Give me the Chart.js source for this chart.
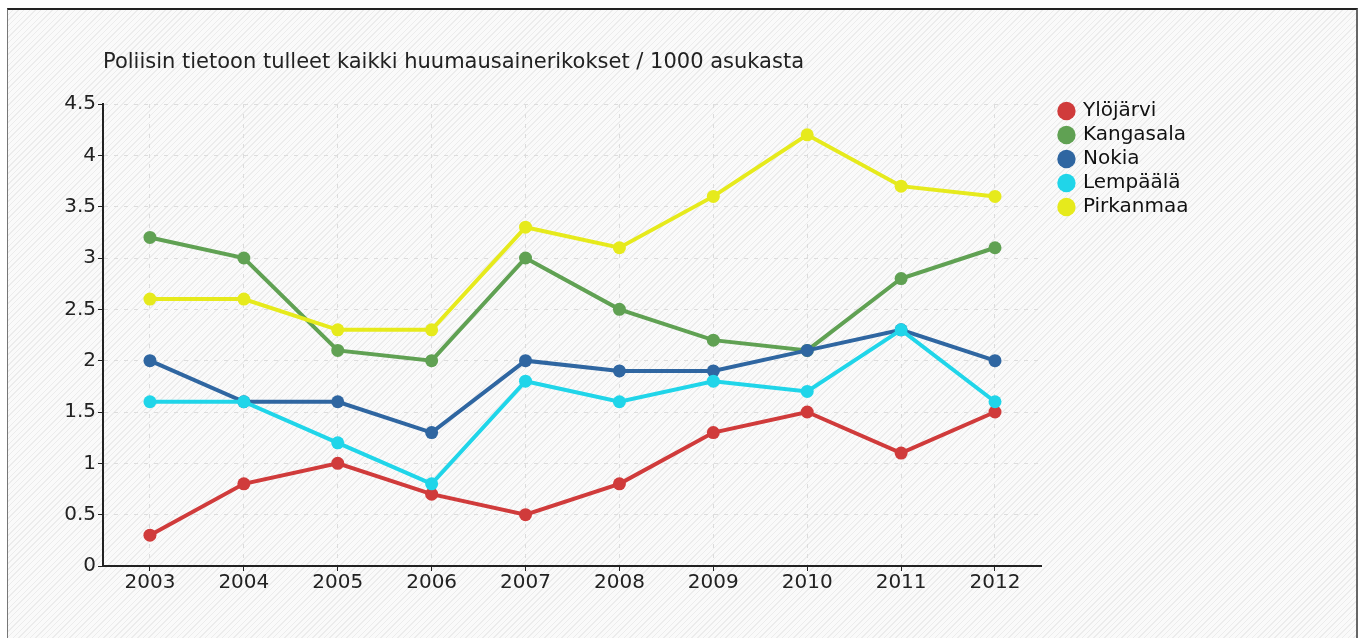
<!DOCTYPE html>
<html>
<head>
<meta charset="utf-8">
<script src="https://cdn.jsdelivr.net/npm/chart.js@4/dist/chart.umd.min.js"></script>
<style>
  html, body { margin: 0; padding: 0; background: #fff; }
  body { width: 1359px; height: 638px; position: relative; overflow: hidden; }
  #frame {
    position: absolute; left: 7px; top: 8px; width: 1348px; height: 640px;
    border-top: 2px solid #222; border-left: 1px solid #777; border-right: 2px solid #666;
    background: repeating-linear-gradient(135deg, #fafafa 0 3px, #ececec 3px 4px);
  }
  #wrap { position: absolute; left: 0; top: 0; width: 1359px; height: 638px; }
</style>
</head>
<body>
<div id="frame"></div>
<div id="wrap"><canvas id="chart" width="1359" height="638"></canvas></div>
<script>
// =============================
// Data
// =============================
const years = ["2003", "2004", "2005", "2006", "2007", "2008", "2009", "2010", "2011", "2012"];
const seriesNames = ["Ylöjärvi", "Kangasala", "Nokia", "Lempäälä", "Pirkanmaa"];
const ylojarvi  = [0.3, 0.8, 1.0, 0.7, 0.5, 0.8, 1.3, 1.5, 1.1, 1.5];
const kangasala = [3.2, 3.0, 2.1, 2.0, 3.0, 2.5, 2.2, 2.1, 2.8, 3.1];
const nokia     = [2.0, 1.6, 1.6, 1.3, 2.0, 1.9, 1.9, 2.1, 2.3, 2.0];
const lempaala  = [1.6, 1.6, 1.2, 0.8, 1.8, 1.6, 1.8, 1.7, 2.3, 1.6];
const pirkanmaa = [2.6, 2.6, 2.3, 2.3, 3.3, 3.1, 3.6, 4.2, 3.7, 3.6];
const colors = ["#d03b3b", "#60a153", "#2f66a1", "#20d5e9", "#e6ea1c"];
const titleText = "Poliisin tietoon tulleet kaikki huumausainerikokset / 1000 asukasta";

// =============================
// Chart
// =============================
const values = [ylojarvi, kangasala, nokia, lempaala, pirkanmaa];
const font = "'DejaVu Sans', sans-serif";

const datasets = values.map((v, i) => ({
  label: seriesNames[i],
  data: v,
  borderColor: colors[i],
  backgroundColor: colors[i],
  borderWidth: 4,
  pointRadius: 6.5,
  pointHoverRadius: 6.5,
  pointBorderWidth: 0,
  tension: 0,
  order: values.length - i   // later series drawn on top
}));

new Chart(document.getElementById("chart"), {
  type: "line",
  data: { labels: years, datasets: datasets },
  options: {
    responsive: false,
    animation: false,
    events: [],
    layout: { padding: { left: 0, right: 160.5, top: 0, bottom: 0 } },
    plugins: {
      tooltip: { enabled: false },
      title: {
        display: true,
        text: titleText,
        align: "start",
        fullSize: false,
        color: "#222",
        font: { family: font, size: 21, weight: "normal", lineHeight: 1.2 },
        padding: { top: 50.4, bottom: 28.4 }
      },
      legend: {
        position: "right",
        align: "start",
        title: { display: true, text: "", font: { size: 10, lineHeight: 1.2 }, padding: { top: 85, bottom: 0 } },
        labels: {
          usePointStyle: true,
          pointStyle: "circle",
          boxWidth: 13,
          boxHeight: 13,
          padding: 4,
          color: "#111",
          font: { family: font, size: 20 },
          sort: (a, b) => a.datasetIndex - b.datasetIndex
        }
      }
    },
    scales: {
      x: {
        offset: true,
        grid: { color: "#dcdcdc", tickColor: "#222", tickLength: 5, tickBorderDash: [] },
        border: { color: "#222", width: 2, dash: [4, 6] },
        ticks: { color: "#222", padding: 0, font: { family: font, size: 20 }, maxRotation: 0 },
        afterFit: s => { s.height = 72; }
      },
      y: {
        min: 0,
        max: 4.5,
        ticks: {
          stepSize: 0.5, color: "#222", padding: 2, font: { family: font, size: 20 },
          callback: v => String(v)
        },
        grid: { color: "#dcdcdc", tickColor: "#222", tickLength: 5, tickBorderDash: [] },
        border: { color: "#222", width: 2, dash: [4, 6] },
        afterFit: s => { s.width = 103; }
      },
      gap: {
        type: "linear",
        position: "right",
        display: true,
        grid: { display: false },
        ticks: { display: false },
        border: { display: false },
        afterFit: s => { s.width = 14; }
      }
    }
  }
});
</script>
</body>
</html>
